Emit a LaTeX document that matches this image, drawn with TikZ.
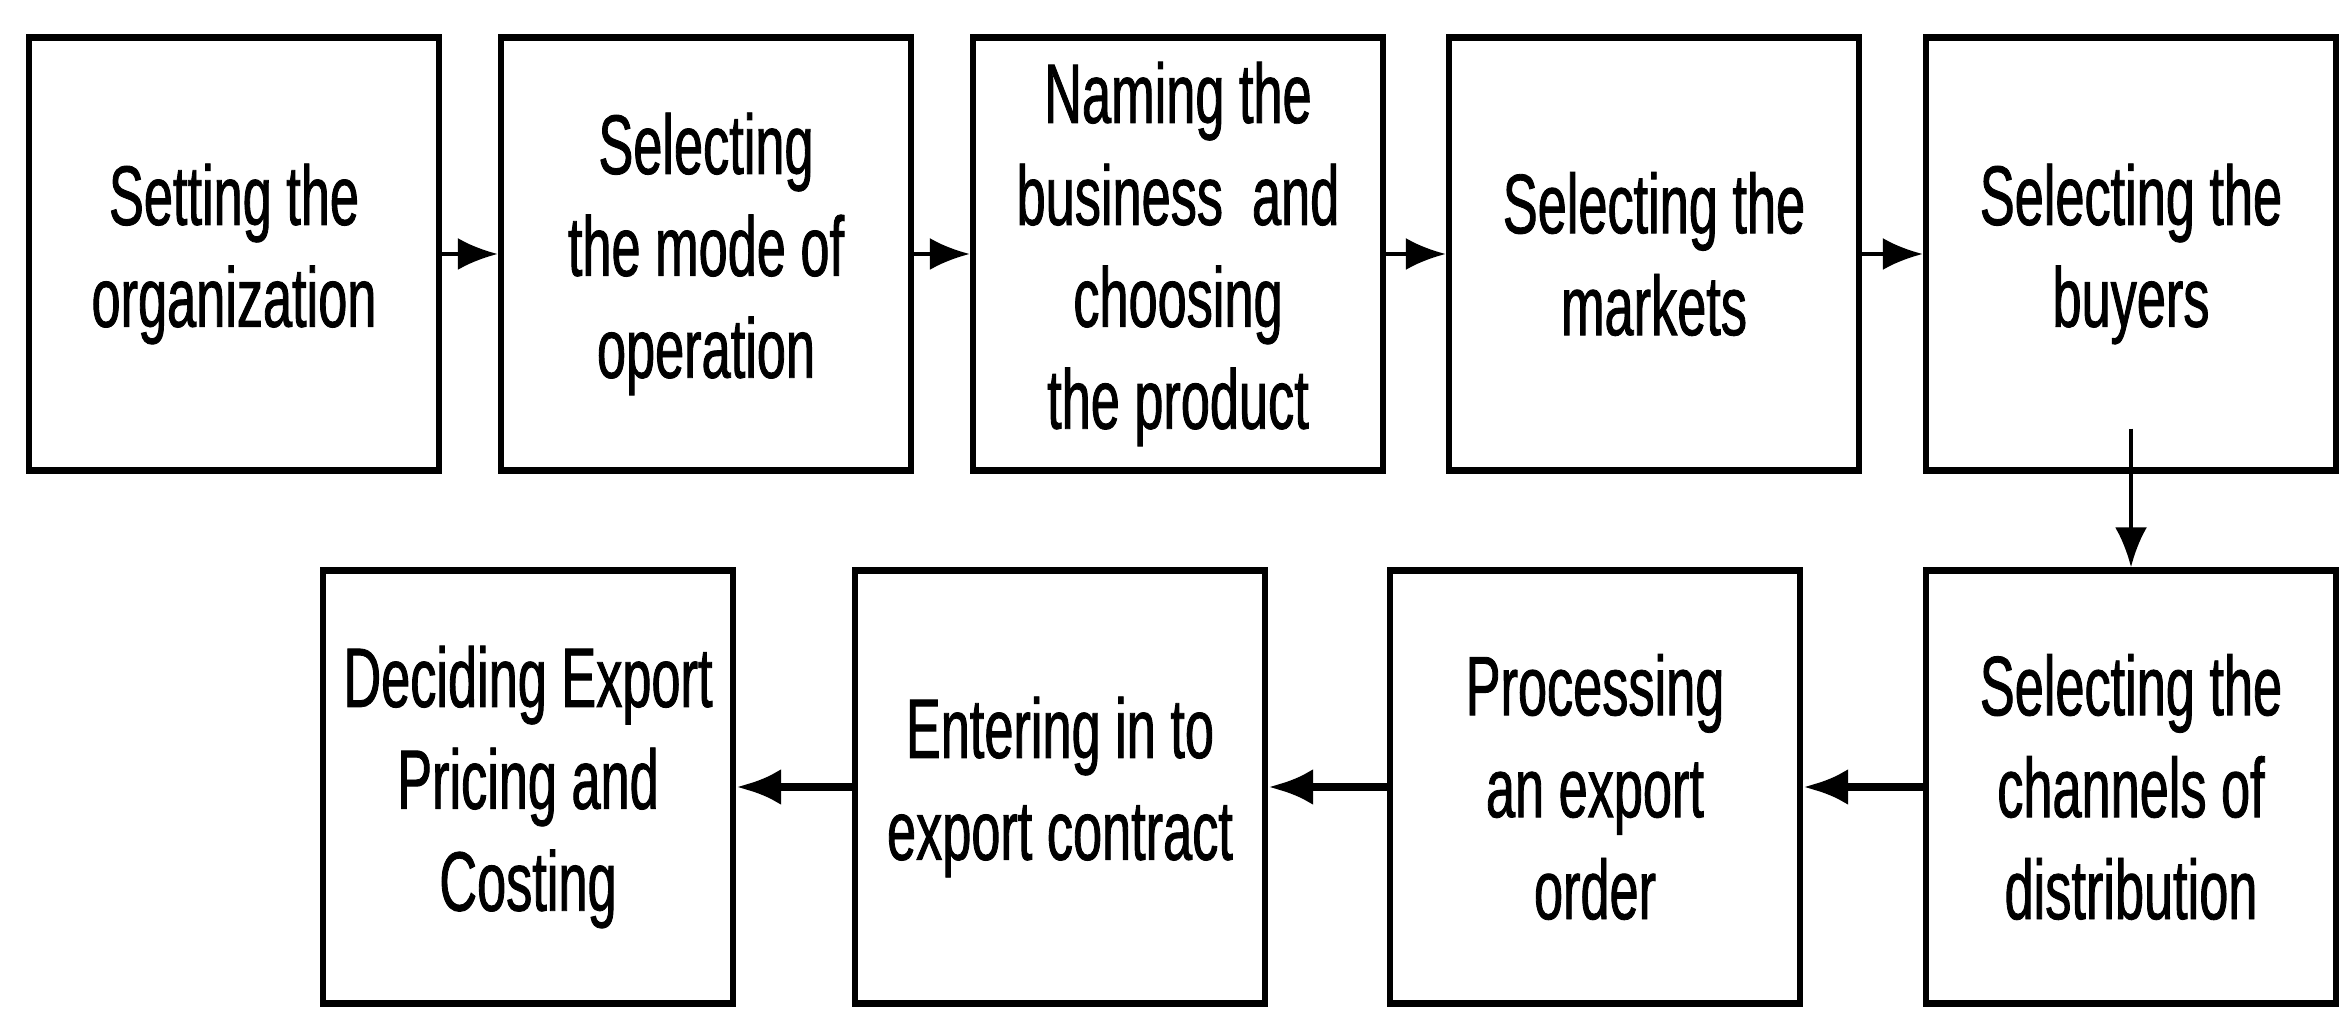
\documentclass[tikz,border=0pt]{standalone}
\usepackage{fontspec}
\setmainfont{Liberation Sans}[FakeStretch=0.62, FakeBold=1]
\usetikzlibrary{arrows.meta}

\tikzset{
  etape/.style={draw, line width=1.8pt, minimum width=4.1cm, minimum height=4.33cm,
    inner sep=0pt, align=center, font=\fontsize{24}{29}\selectfont},
  fleche/.style={-{Latex[length=4mm,width=3.2mm]}, line width=1.2pt},
  grossefleche/.style={-{Latex[length=4.5mm,width=3.6mm]}, line width=2.4pt}
}

\begin{document}
\begin{tikzpicture}
\useasboundingbox (0,0) rectangle (23.41,10.13);
% premiere ligne
  \node[etape] (organisation) at (2.34,7.59) {Setting the\\organization};
  \node[etape] (mode) at (7.06,7.59) {Selecting\\the mode of\\operation};
  \node[etape] (nom) at (11.78,7.59) {Naming the\\business\ \ and\\choosing\\the product};
  \node[etape] (marches) at (16.54,7.59) {Selecting the\\markets};
  \node[etape] (acheteurs) at (21.31,7.59) {Selecting the\\buyers};
% deuxieme ligne
  \node[etape] (canaux) at (21.31,2.26) {Selecting the\\channels of\\distribution};
  \node[etape] (commande) at (15.95,2.26) {Processing\\an export\\order};
  \node[etape] (contrat) at (10.60,2.26) {Entering in to\\export contract};
  \node[etape] (prix) at (5.28,2.26) {Deciding Export\\Pricing and\\Costing};

% dessiner les fleches
  \foreach \a/\b in {organisation/mode, mode/nom, nom/marches, marches/acheteurs}
    \draw[fleche] (\a) -- (\b);
  \draw[fleche] ([yshift=0.45cm]acheteurs.south) -- (canaux);
  \foreach \a/\b in {canaux/commande, commande/contrat, contrat/prix}
    \draw[grossefleche] (\a) -- (\b);
\end{tikzpicture}
\end{document}
